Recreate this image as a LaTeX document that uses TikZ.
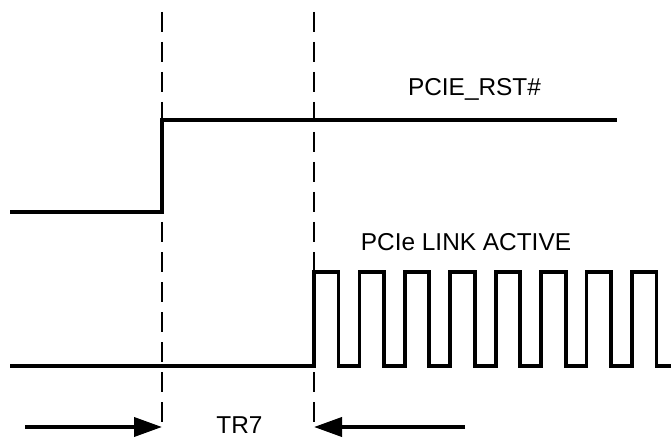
\documentclass[tikz,border=0pt]{standalone}
\usepackage{fontspec}
\setmainfont{Liberation Sans}
\usetikzlibrary{arrows.meta, positioning}

\begin{document}
\begin{tikzpicture}[
            x = 1pt, y = -1pt, % units of the picture, y runs down
            signal/.style = {line width = 3.8pt, line join = miter}, % waveform
            marker/.style = {dash pattern = on 20pt off 10pt, line width = 1.8pt}, % timing lines
            span/.style = {line width = 3.8pt, -{Triangle[length = 28pt, width = 19pt]}},
            lbl/.style = {font = \fontsize{24.4}{29}\selectfont, inner sep = 0pt, anchor = base}
        ]
        \useasboundingbox (0,0) rectangle (671,438);

        % timing markers
        \coordinate (t1top) at (162,12);
        \coordinate (t1bot) at (162,432);
        \coordinate (t2top) at (314,12);
        \coordinate (t2bot) at (314,432);
        \draw[marker] (t1top) -- (t1bot);
        \draw[marker] (t2top) -- (t2bot);

        % PCIE_RST# waveform
        \draw[signal] (10,212) -- (162,212) -- (162,120) -- (617,120);
        \node[lbl] (rst) at (474.5,96) {PCIE\_RST\#};

        % link active waveform
        \draw[signal] (10,366)
            foreach \i in {0,...,7} {
                -- ({314+45.43*\i},366) -- ({314+45.43*\i},272)
                -- ({338.5+45.43*\i},272) -- ({338.5+45.43*\i},366)
            } -- (671,366);
        \node[lbl] (link) at (466,251) {PCIe LINK ACTIVE};

        % TR7 interval
        \coordinate (lfrom) at (25,427);
        \coordinate (lto) at (t1bot |- lfrom);
        \coordinate (rfrom) at (465,427);
        \coordinate (rto) at (t2bot |- rfrom);
        \draw[span] (lfrom) -- (lto);
        \draw[span] (rfrom) -- (rto);
        \node[lbl] (tr) at (239.5,433) {TR7};
\end{tikzpicture}
\end{document}
